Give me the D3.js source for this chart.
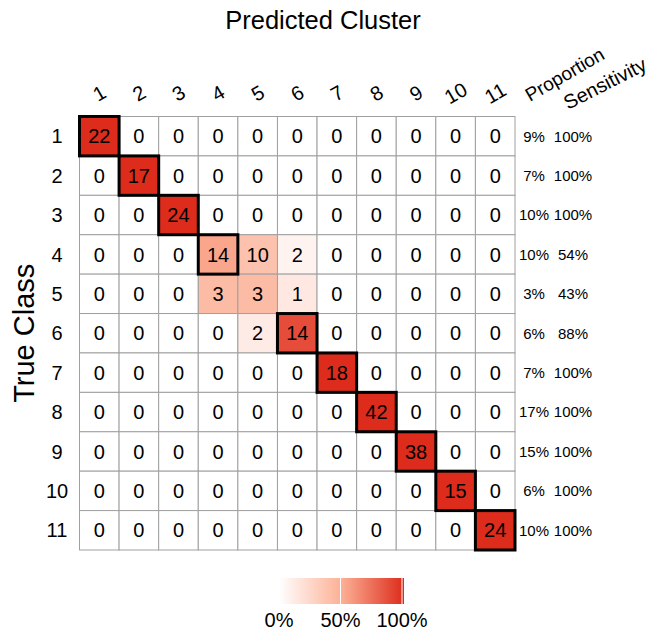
<!DOCTYPE html>
<html>
<head>
<meta charset="utf-8">
<script src="https://cdn.jsdelivr.net/npm/d3@7"></script>
<style>
  body { margin: 0; background: #fff; }
  svg text { font-family: "Liberation Sans", Arial, sans-serif; fill: #000; }
</style>
</head>
<body>
<div id="chart"></div>
<script>
// true classes (rows) and predicted clusters (columns)
const classes = ["1", "2", "3", "4", "5", "6", "7", "8", "9", "10", "11"];
const clusters = ["1", "2", "3", "4", "5", "6", "7", "8", "9", "10", "11"];

// confusion counts, one row per true class
const counts = [
    [22, 0, 0, 0, 0, 0, 0, 0, 0, 0, 0],
    [0, 17, 0, 0, 0, 0, 0, 0, 0, 0, 0],
    [0, 0, 24, 0, 0, 0, 0, 0, 0, 0, 0],
    [0, 0, 0, 14, 10, 2, 0, 0, 0, 0, 0],
    [0, 0, 0, 3, 3, 1, 0, 0, 0, 0, 0],
    [0, 0, 0, 0, 2, 14, 0, 0, 0, 0, 0],
    [0, 0, 0, 0, 0, 0, 18, 0, 0, 0, 0],
    [0, 0, 0, 0, 0, 0, 0, 42, 0, 0, 0],
    [0, 0, 0, 0, 0, 0, 0, 0, 38, 0, 0],
    [0, 0, 0, 0, 0, 0, 0, 0, 0, 15, 0],
    [0, 0, 0, 0, 0, 0, 0, 0, 0, 0, 24]
];

const legendTicks = [0, 0.5, 1];

const width = 656, height = 633;

const svg = d3.select("#chart")
    .append("svg")
    .attr("width", width)
    .attr("height", height);

const x = d3.scaleBand().domain(clusters).range([79.5, 515]);
const y = d3.scaleBand().domain(classes).range([116.5, 550]);

const color = d3.scaleLinear()
    .domain([0, 0.5, 1])
    .range(["#ffffff", "#fcb095", "#dd2c1b"])
    .clamp(true);

const rowSums = counts.map(r => d3.sum(r));
const total = d3.sum(rowSums);

// flatten into cells
const cells = [];
counts.forEach((row, i) => {
    row.forEach((v, j) => {
        cells.push({ cls: classes[i], cl: clusters[j], value: v, prop: v / rowSums[i] });
    });
});

// tiles
svg.append("g").selectAll("rect")
    .data(cells)
    .join("rect")
    .attr("x", d => x(d.cl))
    .attr("y", d => y(d.cls))
    .attr("width", x.bandwidth())
    .attr("height", y.bandwidth())
    .attr("fill", d => color(d.prop))
    .attr("stroke", "#a0a0a0")
    .attr("stroke-width", 1);

// thick outline where the cluster holds most of the class
svg.append("g").selectAll("rect")
    .data(cells.filter(d => d.prop > 0.5))
    .join("rect")
    .attr("x", d => x(d.cl))
    .attr("y", d => y(d.cls))
    .attr("width", x.bandwidth())
    .attr("height", y.bandwidth())
    .attr("fill", "none")
    .attr("stroke", "#000")
    .attr("stroke-width", 3);

// counts
svg.append("g").selectAll("text")
    .data(cells)
    .join("text")
    .attr("x", d => x(d.cl) + x.bandwidth() / 2)
    .attr("y", d => y(d.cls) + y.bandwidth() / 2)
    .attr("dy", "0.36em")
    .attr("text-anchor", "middle")
    .style("font-size", "20px")
    .text(d => d.value);

// column labels (rotated)
svg.append("g").selectAll("text")
    .data(clusters)
    .join("text")
    .attr("transform", d => `translate(${x(d) + x.bandwidth() / 2},93) rotate(-30)`)
    .attr("dy", "0.36em")
    .attr("text-anchor", "middle")
    .style("font-size", "20px")
    .text(d => d);

// row labels
svg.append("g").selectAll("text")
    .data(classes)
    .join("text")
    .attr("x", 57)
    .attr("y", d => y(d) + y.bandwidth() / 2)
    .attr("dy", "0.36em")
    .attr("text-anchor", "middle")
    .style("font-size", "20px")
    .text(d => d);

// proportion + sensitivity columns
const rightCols = svg.append("g");
rightCols.selectAll("text.prop")
    .data(classes)
    .join("text")
    .attr("class", "prop")
    .attr("x", 534)
    .attr("y", (d, i) => y(d) + y.bandwidth() / 2)
    .attr("dy", "0.36em")
    .attr("text-anchor", "middle")
    .style("font-size", "15px")
    .text((d, i) => Math.round(rowSums[i] / total * 100) + "%");

rightCols.selectAll("text.sens")
    .data(classes)
    .join("text")
    .attr("class", "sens")
    .attr("x", 573)
    .attr("y", (d, i) => y(d) + y.bandwidth() / 2)
    .attr("dy", "0.36em")
    .attr("text-anchor", "middle")
    .style("font-size", "15px")
    .text((d, i) => Math.round(d3.max(counts[i]) / rowSums[i] * 100) + "%");

svg.append("text")
    .attr("transform", "translate(530,102) rotate(-30)")
    .style("font-size", "19px")
    .text("Proportion");

svg.append("text")
    .attr("transform", "translate(568,110) rotate(-27)")
    .style("font-size", "20px")
    .text("Sensitivity");

// titles
svg.append("text")
    .attr("x", 323)
    .attr("y", 29)
    .attr("text-anchor", "middle")
    .style("font-size", "25.5px")
    .text("Predicted Cluster");

svg.append("text")
    .attr("transform", `translate(34,${(116.5 + 550) / 2}) rotate(-90)`)
    .attr("text-anchor", "middle")
    .style("font-size", "29px")
    .text("True Class");

// colour legend
const lx = d3.scaleLinear().domain([0, 1]).range([279, 402]);
const defs = svg.append("defs");
const grad = defs.append("linearGradient").attr("id", "legendGrad");
grad.selectAll("stop")
    .data(d3.range(0, 1.01, 0.1))
    .join("stop")
    .attr("offset", d => d)
    .attr("stop-color", d => color(d));

svg.append("rect")
    .attr("x", lx(0))
    .attr("y", 578)
    .attr("width", lx(1) - lx(0) + 2)
    .attr("height", 26)
    .attr("fill", "url(#legendGrad)");

svg.append("g").selectAll("line")
    .data(legendTicks)
    .join("line")
    .attr("x1", d => lx(d))
    .attr("x2", d => lx(d))
    .attr("y1", 578)
    .attr("y2", 604)
    .attr("stroke", "#fff")
    .attr("stroke-width", 1);

svg.append("g").selectAll("text")
    .data(legendTicks)
    .join("text")
    .attr("x", d => lx(d))
    .attr("y", 627)
    .attr("text-anchor", "middle")
    .style("font-size", "20px")
    .text(d => Math.round(d * 100) + "%");
</script>
</body>
</html>
